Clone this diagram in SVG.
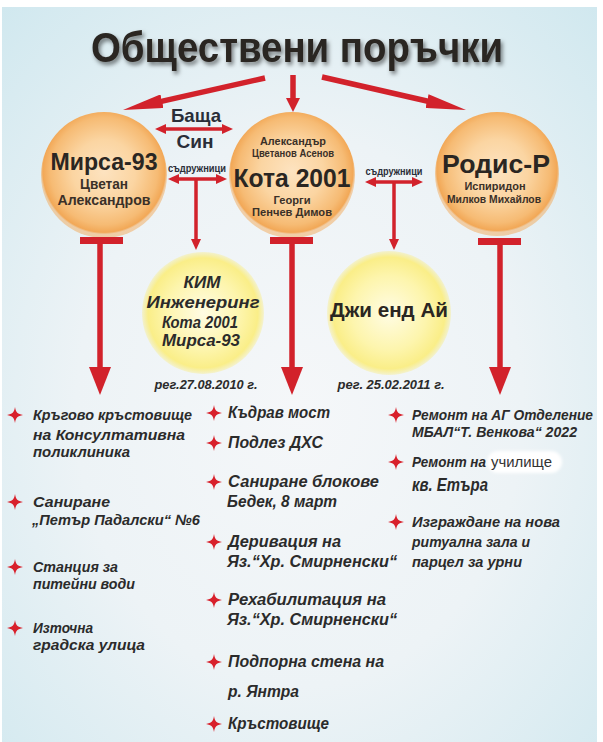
<svg xmlns="http://www.w3.org/2000/svg" xmlns:xlink="http://www.w3.org/1999/xlink" width="603" height="742" viewBox="0 0 603 742">
<defs>
  <style>
    .t{font-family:"Liberation Sans",Arial,sans-serif;font-weight:bold;fill:#2a2622;text-anchor:middle}
    .nm{font-family:"Liberation Sans",Arial,sans-serif;font-weight:bold;fill:#3a3028;text-anchor:middle}
    .it{font-family:"Liberation Sans",Arial,sans-serif;font-weight:bold;font-style:italic;fill:#2b2b2b}
    .itc{font-family:"Liberation Sans",Arial,sans-serif;font-weight:bold;font-style:italic;fill:#2b2b2b;text-anchor:middle}
    .lbl{font-family:"Liberation Sans",Arial,sans-serif;font-weight:bold;fill:#2a2e38;text-anchor:middle}
    .big{stroke:#d2222b;stroke-width:5.5;fill:none}
    .sm{stroke:#d2222b;stroke-width:3.5;fill:none}
    .bar{fill:#d2222b}
    .star{fill:#d8202b}
  </style>
  <radialGradient id="bg" cx="0.5" cy="0.55" r="0.75">
    <stop offset="0" stop-color="#f5f7f9"/>
    <stop offset="0.5" stop-color="#edf3f6"/>
    <stop offset="1" stop-color="#d0e8ef"/>
  </radialGradient>
  <radialGradient id="orange" cx="0.5" cy="0.47" r="0.5">
    <stop offset="0" stop-color="#fde3c0"/>
    <stop offset="0.5" stop-color="#fbd5a2"/>
    <stop offset="0.85" stop-color="#f6bb74"/>
    <stop offset="0.97" stop-color="#f2a857"/>
    <stop offset="1" stop-color="#f2a857" stop-opacity="0.5"/>
  </radialGradient>
  <radialGradient id="yellow" cx="0.5" cy="0.5" r="0.5">
    <stop offset="0" stop-color="#fffce4"/>
    <stop offset="0.6" stop-color="#fdf5ad"/>
    <stop offset="0.9" stop-color="#faee88"/>
    <stop offset="1" stop-color="#f8ec85" stop-opacity="0.35"/>
  </radialGradient>
  <filter id="shadow" x="-10%" y="-20%" width="120%" height="160%">
    <feDropShadow dx="2" dy="3" stdDeviation="2" flood-color="#000" flood-opacity="0.5"/>
  </filter>
  <filter id="soft" x="-20%" y="-40%" width="140%" height="180%">
    <feGaussianBlur stdDeviation="1.5"/>
  </filter>
  <marker id="titleHead" viewBox="0 0 40 14" refX="20" refY="7" markerWidth="40" markerHeight="14" markerUnits="userSpaceOnUse" orient="auto">
    <path d="M0,0 L40,7 L0,14 Z" fill="#d2222b"/>
  </marker>
  <marker id="shortHead" viewBox="0 0 14 14" refX="8" refY="7" markerWidth="14" markerHeight="14" markerUnits="userSpaceOnUse" orient="auto">
    <path d="M0,0 L14,7 L0,14 Z" fill="#d2222b"/>
  </marker>
  <marker id="bigHead" viewBox="0 0 28 22" refX="16" refY="11" markerWidth="28" markerHeight="22" markerUnits="userSpaceOnUse" orient="auto">
    <path d="M0,0 L28,11 L0,22 Z" fill="#d2222b"/>
  </marker>
  <marker id="smallHead" viewBox="0 0 11 10" refX="5" refY="5" markerWidth="11" markerHeight="10" markerUnits="userSpaceOnUse" orient="auto-start-reverse">
    <path d="M0,0 L11,5 L0,10 Z" fill="#d2222b"/>
  </marker>
  <path id="star" d="M0,-8 C1,-2.5 2.5,-1 8,0 C2.5,1 1,2.5 0,8 C-1,2.5 -2.5,1 -8,0 C-2.5,-1 -1,-2.5 0,-8 Z"/>
</defs>

<rect x="0" y="0" width="603" height="742" fill="#ffffff"/>
<rect x="2" y="7" width="595" height="735" fill="url(#bg)"/>

<g id="title">
  <text x="297" y="62" class="t" font-size="42" fill="#262626" textLength="412" lengthAdjust="spacingAndGlyphs" filter="url(#shadow)">Обществени поръчки</text>
</g>

<g id="node-mirsa">
  <circle cx="104" cy="175" r="63" fill="url(#orange)"/>
  <text x="104" y="170" class="t" font-size="23" textLength="107" lengthAdjust="spacingAndGlyphs">Мирса-93</text>
  <text x="104" y="189" class="nm" font-size="14" textLength="48" lengthAdjust="spacingAndGlyphs">Цветан</text>
  <text x="104" y="205" class="nm" font-size="14" textLength="93" lengthAdjust="spacingAndGlyphs">Александров</text>
</g>

<g id="node-kota">
  <circle cx="292" cy="175" r="63" fill="url(#orange)"/>
  <text x="293" y="145" class="nm" font-size="10.5" textLength="66" lengthAdjust="spacingAndGlyphs">Александър</text>
  <text x="293" y="157" class="nm" font-size="10.5" textLength="82" lengthAdjust="spacingAndGlyphs">Цветанов Асенов</text>
  <text x="292" y="187" class="t" font-size="25" textLength="117" lengthAdjust="spacingAndGlyphs">Кота 2001</text>
  <text x="292" y="204" class="nm" font-size="11" textLength="37" lengthAdjust="spacingAndGlyphs">Георги</text>
  <text x="292" y="216" class="nm" font-size="11" textLength="80" lengthAdjust="spacingAndGlyphs">Пенчев Димов</text>
</g>

<g id="node-rodis">
  <circle cx="497" cy="174" r="62" fill="url(#orange)"/>
  <text x="496" y="173" class="t" font-size="26" textLength="108" lengthAdjust="spacingAndGlyphs">Родис-Р</text>
  <text x="495" y="190" class="nm" font-size="11" textLength="61" lengthAdjust="spacingAndGlyphs">Испиридон</text>
  <text x="494" y="203" class="nm" font-size="11" textLength="94" lengthAdjust="spacingAndGlyphs">Милков Михайлов</text>
</g>

<g id="node-kim">
  <circle cx="203" cy="313" r="61" fill="url(#yellow)"/>
  <text x="202" y="288" class="itc" font-size="17" textLength="37" lengthAdjust="spacingAndGlyphs">КИМ</text>
  <text x="203" y="308" class="itc" font-size="17" textLength="113" lengthAdjust="spacingAndGlyphs">Инженеринг</text>
  <text x="200" y="328" class="itc" font-size="17" textLength="76" lengthAdjust="spacingAndGlyphs">Кота 2001</text>
  <text x="201" y="346" class="itc" font-size="17" textLength="78" lengthAdjust="spacingAndGlyphs">Мирса-93</text>
  <text x="206" y="389" class="itc" font-size="12.5" fill="#3a3a3a" textLength="103" lengthAdjust="spacingAndGlyphs">рег.27.08.2010 г.</text>
</g>

<g id="node-dji">
  <circle cx="389" cy="313" r="62" fill="url(#yellow)"/>
  <text x="389" y="317" class="t" font-size="20" textLength="118" lengthAdjust="spacingAndGlyphs">Джи енд Ай</text>
  <text x="391" y="389" class="itc" font-size="12.5" fill="#3a3a3a" textLength="107" lengthAdjust="spacingAndGlyphs">рег. 25.02.2011 г.</text>
</g>

<g id="connectors">
  <line x1="265" y1="78" x2="142.5" y2="105.6" class="big" marker-end="url(#titleHead)"/>
  <line x1="293" y1="75" x2="293" y2="106" class="big" marker-end="url(#shortHead)"/>
  <line x1="322" y1="77" x2="446.5" y2="105.5" class="big" marker-end="url(#titleHead)"/>

  <rect x="80" y="237" width="43" height="7" class="bar"/>
  <line x1="100" y1="243" x2="100" y2="383" class="big" marker-end="url(#bigHead)"/>
  <rect x="270" y="237" width="43" height="7" class="bar"/>
  <line x1="292" y1="243" x2="292" y2="383" class="big" marker-end="url(#bigHead)"/>
  <rect x="478" y="238" width="43" height="7" class="bar"/>
  <line x1="500" y1="244" x2="500" y2="383" class="big" marker-end="url(#bigHead)"/>

  <line x1="161" y1="129" x2="227" y2="129" class="sm" marker-start="url(#smallHead)" marker-end="url(#smallHead)"/>
  <text x="196" y="122" class="lbl" font-size="19" fill="#2a2a2a" textLength="50" lengthAdjust="spacingAndGlyphs">Баща</text>
  <text x="195" y="148" class="lbl" font-size="19" fill="#2a2a2a" textLength="37" lengthAdjust="spacingAndGlyphs">Син</text>

  <text x="197" y="172" class="lbl" font-size="10" textLength="58" lengthAdjust="spacingAndGlyphs">съдружници</text>
  <line x1="174" y1="179" x2="221" y2="179" class="sm" marker-start="url(#smallHead)" marker-end="url(#smallHead)"/>
  <line x1="196" y1="179" x2="196" y2="244" class="sm" stroke-width="3" marker-end="url(#smallHead)"/>

  <text x="394" y="175" class="lbl" font-size="10" textLength="57" lengthAdjust="spacingAndGlyphs">съдружници</text>
  <line x1="371" y1="182" x2="417" y2="182" class="sm" marker-start="url(#smallHead)" marker-end="url(#smallHead)"/>
  <line x1="394" y1="182" x2="394" y2="244" class="sm" stroke-width="3" marker-end="url(#smallHead)"/>
</g>

<g id="list-mirsa">
  <use xlink:href="#star" href="#star" x="15" y="415" class="star"/>
  <use xlink:href="#star" href="#star" x="15" y="502" class="star"/>
  <use xlink:href="#star" href="#star" x="15" y="567" class="star"/>
  <use xlink:href="#star" href="#star" x="15" y="628" class="star"/>
  <text x="33" y="420" class="it" font-size="15" textLength="159" lengthAdjust="spacingAndGlyphs">Кръгово кръстовище</text>
  <text x="33" y="440" class="it" font-size="15" textLength="152" lengthAdjust="spacingAndGlyphs">на Консултативна</text>
  <text x="33" y="457" class="it" font-size="15" textLength="97" lengthAdjust="spacingAndGlyphs">поликлиника</text>
  <text x="33" y="507" class="it" font-size="15" textLength="77" lengthAdjust="spacingAndGlyphs">Саниране</text>
  <text x="32" y="525" class="it" font-size="15" textLength="168" lengthAdjust="spacingAndGlyphs">„Петър Падалски“ №6</text>
  <text x="33" y="572" class="it" font-size="15" textLength="85" lengthAdjust="spacingAndGlyphs">Станция за</text>
  <text x="33" y="589" class="it" font-size="15" textLength="102" lengthAdjust="spacingAndGlyphs">питейни води</text>
  <text x="33" y="633" class="it" font-size="15" textLength="60" lengthAdjust="spacingAndGlyphs">Източна</text>
  <text x="33" y="650" class="it" font-size="15" textLength="112" lengthAdjust="spacingAndGlyphs">градска улица</text>
</g>

<g id="list-kota">
  <use xlink:href="#star" href="#star" x="214" y="413" class="star"/>
  <use xlink:href="#star" href="#star" x="214" y="443" class="star"/>
  <use xlink:href="#star" href="#star" x="214" y="482" class="star"/>
  <use xlink:href="#star" href="#star" x="214" y="542" class="star"/>
  <use xlink:href="#star" href="#star" x="214" y="600" class="star"/>
  <use xlink:href="#star" href="#star" x="214" y="662" class="star"/>
  <use xlink:href="#star" href="#star" x="214" y="724" class="star"/>
  <text x="228" y="418" class="it" font-size="16" textLength="102" lengthAdjust="spacingAndGlyphs">Къдрав мост</text>
  <text x="228" y="448" class="it" font-size="16" textLength="95" lengthAdjust="spacingAndGlyphs">Подлез ДХС</text>
  <text x="228" y="487" class="it" font-size="16" textLength="151" lengthAdjust="spacingAndGlyphs">Саниране блокове</text>
  <text x="227" y="507" class="it" font-size="16" textLength="110" lengthAdjust="spacingAndGlyphs">Бедек, 8 март</text>
  <text x="228" y="547" class="it" font-size="16" textLength="113" lengthAdjust="spacingAndGlyphs">Деривация на</text>
  <text x="227" y="567" class="it" font-size="16" textLength="170" lengthAdjust="spacingAndGlyphs">Яз.“Хр. Смирненски“</text>
  <text x="228" y="605" class="it" font-size="16" textLength="158" lengthAdjust="spacingAndGlyphs">Рехабилитация на</text>
  <text x="227" y="625" class="it" font-size="16" textLength="170" lengthAdjust="spacingAndGlyphs">Яз.“Хр. Смирненски“</text>
  <text x="228" y="667" class="it" font-size="16" textLength="156" lengthAdjust="spacingAndGlyphs">Подпорна стена на</text>
  <text x="228" y="697" class="it" font-size="16" textLength="71" lengthAdjust="spacingAndGlyphs">р. Янтра</text>
  <text x="228" y="729" class="it" font-size="16" textLength="101" lengthAdjust="spacingAndGlyphs">Кръстовище</text>
</g>

<g id="list-rodis">
  <use xlink:href="#star" href="#star" x="396" y="415" class="star"/>
  <use xlink:href="#star" href="#star" x="396" y="462" class="star"/>
  <use xlink:href="#star" href="#star" x="396" y="522" class="star"/>
  <text x="412" y="420" class="it" font-size="14" textLength="181" lengthAdjust="spacingAndGlyphs">Ремонт на АГ Отделение</text>
  <text x="412" y="437" class="it" font-size="14" textLength="165" lengthAdjust="spacingAndGlyphs">МБАЛ“Т. Венкова“ 2022</text>
  <rect x="487" y="451" width="75" height="22" rx="11" fill="#ffffff" filter="url(#soft)"/>
  <text x="412" y="467" class="it" font-size="14" textLength="74" lengthAdjust="spacingAndGlyphs">Ремонт на</text>
  <text x="491" y="467" font-family="'Liberation Sans',Arial,sans-serif" font-size="15" fill="#333333" textLength="61" lengthAdjust="spacingAndGlyphs">училище</text>
  <text x="412" y="491" class="it" font-size="18" textLength="76" lengthAdjust="spacingAndGlyphs">кв. Етъра</text>
  <text x="412" y="527" class="it" font-size="14" textLength="148" lengthAdjust="spacingAndGlyphs">Изграждане на нова</text>
  <text x="412" y="547" class="it" font-size="14" textLength="118" lengthAdjust="spacingAndGlyphs">ритуална зала и</text>
  <text x="412" y="567" class="it" font-size="14" textLength="110" lengthAdjust="spacingAndGlyphs">парцел за урни</text>
</g>
</svg>
